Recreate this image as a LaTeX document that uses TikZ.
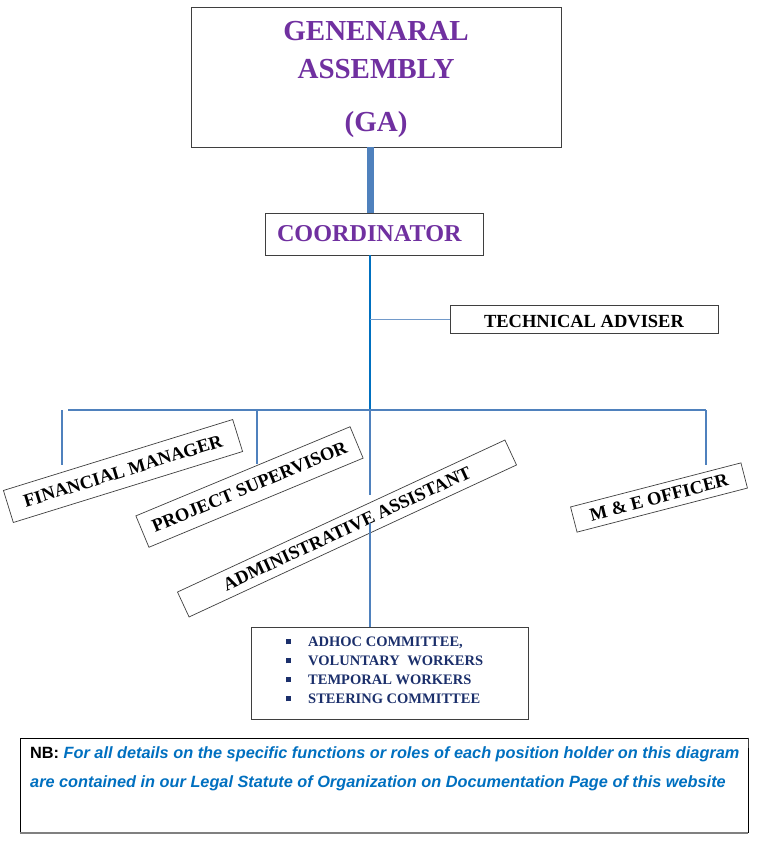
\documentclass[tikz,border=0pt]{standalone}
\usepackage{fontspec}
\setmainfont{Liberation Serif}
\newfontfamily\arialf{Liberation Sans}
\definecolor{gapurple}{HTML}{7030A0}
\definecolor{steel}{HTML}{4F81BD}
\definecolor{trunkblue}{HTML}{0070C0}
\definecolor{navy}{HTML}{1B2F6B}
\definecolor{nbblue}{HTML}{0070C0}
\definecolor{edge}{HTML}{3F3F3F}
\newcommand{\fsz}[2]{\fontsize{#1}{#2}\selectfont}
\newcommand{\sqbul}{\textcolor{navy}{\rule[2.5pt]{5pt}{5pt}}\hspace{17pt}}
\begin{document}
\begin{tikzpicture}[x=1pt,y=-1pt,
  box/.style={draw=edge, line width=0.8pt, inner sep=0pt},
  rbox/.style={draw=edge, line width=0.7pt, inner sep=0pt, font=\fsz{18.5}{22}\bfseries},
  thinline/.style={draw=steel, line width=1.2pt},
  trunkline/.style={draw=trunkblue, line width=2.6pt},
  ]
\useasboundingbox (0,0) rectangle (768,844);
\fill[white] (0,0) rectangle (768,844);

% top boxes
\node[box, minimum width=370pt, minimum height=140pt, align=center,
      text=gapurple, font=\fsz{29}{38}\bfseries] (ga) at (376,77)
      {\rule{0pt}{24pt}GENENARAL\\ASSEMBLY\\[15pt](GA)};
\node[box, minimum width=218pt, minimum height=42pt, text=gapurple,
      font=\fsz{24.2}{26}\bfseries] (co) at (374,234)
      {\makebox[218pt][l]{\hspace{12pt}COORDINATOR}};
\node[box, minimum width=268pt, minimum height=28pt, text height=17pt, text depth=0pt,
      font=\fsz{18.5}{22}\bfseries] (ta) at (584,319) {TECHNICAL ADVISER};

% rotated boxes
\node[rbox, rotate=17.2, minimum width=240pt, minimum height=33.5pt] (fm) at (123,471) {FINANCIAL MANAGER};
\node[rbox, rotate=22.6, minimum width=232pt, minimum height=34pt] (ps) at (249.5,487) {PROJECT SUPERVISOR};
\node[rbox, rotate=24.9, minimum width=361pt, minimum height=27.5pt] (aa) at (347,528.5) {ADMINISTRATIVE ASSISTANT};
\node[rbox, rotate=14.5, minimum width=176pt, minimum height=26pt] (me) at (659,497.5) {M \& E OFFICER};

% committee box
\node[box, minimum width=277pt, minimum height=92pt, inner sep=0pt] (cb) at (389.5,673) {};
\node[anchor=north west, inner sep=0pt, align=left,
      text=navy, font=\fsz{14.5}{19}\bfseries] (cbt) at (286,637)
      {\sqbul ADHOC COMMITTEE,\\\sqbul VOLUNTARY\hspace{4pt} WORKERS\\\sqbul TEMPORAL WORKERS\\\sqbul STEERING COMMITTEE};

% NB box
\node[draw=black, line width=0.8pt, minimum width=728pt, minimum height=94pt, inner sep=0pt] (nb) at (384,785) {};
\draw[draw=gray, line width=2pt] ([yshift=-1pt]nb.south west) -- ([yshift=-1pt]nb.south east);
\draw[draw=edge, line width=0.8pt] (nb.north east) -- ([yshift=-10pt]nb.north east);
\node[anchor=north west, inner sep=0pt, align=left, font=\arialf\fsz{16.3}{29}\bfseries] (nbt) at (30,746)
  {\textcolor{black}{NB:} \textcolor{nbblue}{\itshape For all details on the specific functions or roles of each position holder on this diagram}\\
   \textcolor{nbblue}{\itshape are contained in our Legal Statute of Organization on Documentation Page of this website}};

% connectors
\coordinate (trunk) at (370,0);
\coordinate (bus) at (370,410);
\coordinate (busL) at (68,410);
\coordinate (busR) at (706,410);
\coordinate (dropFM) at (62,410);
\coordinate (endFM) at (62,465);
\coordinate (dropPS) at (257,410);
\coordinate (endPS) at (257,464);
\coordinate (endME) at (706,465);
\coordinate (aaTop) at (370,495);
\coordinate (aaIn) at (370,523);

\draw[draw=steel, line width=7pt] (ga.south -| trunk) -- (co.north -| trunk);
\draw[trunkline] (co.south -| trunk) -- (bus);
\draw[draw=steel!80, line width=0.9pt] (ta.west -| trunk) -- (ta.west);
\draw[thinline] (busL) -- (busR);
\draw[thinline] (dropFM) -- (endFM);
\draw[thinline] (dropPS) -- (endPS);
\draw[thinline] (busR) -- (endME);
\draw[thinline] (bus) -- (aaTop);
\draw[thinline] (aaIn) -- (cb.north -| trunk);
\end{tikzpicture}
\end{document}
